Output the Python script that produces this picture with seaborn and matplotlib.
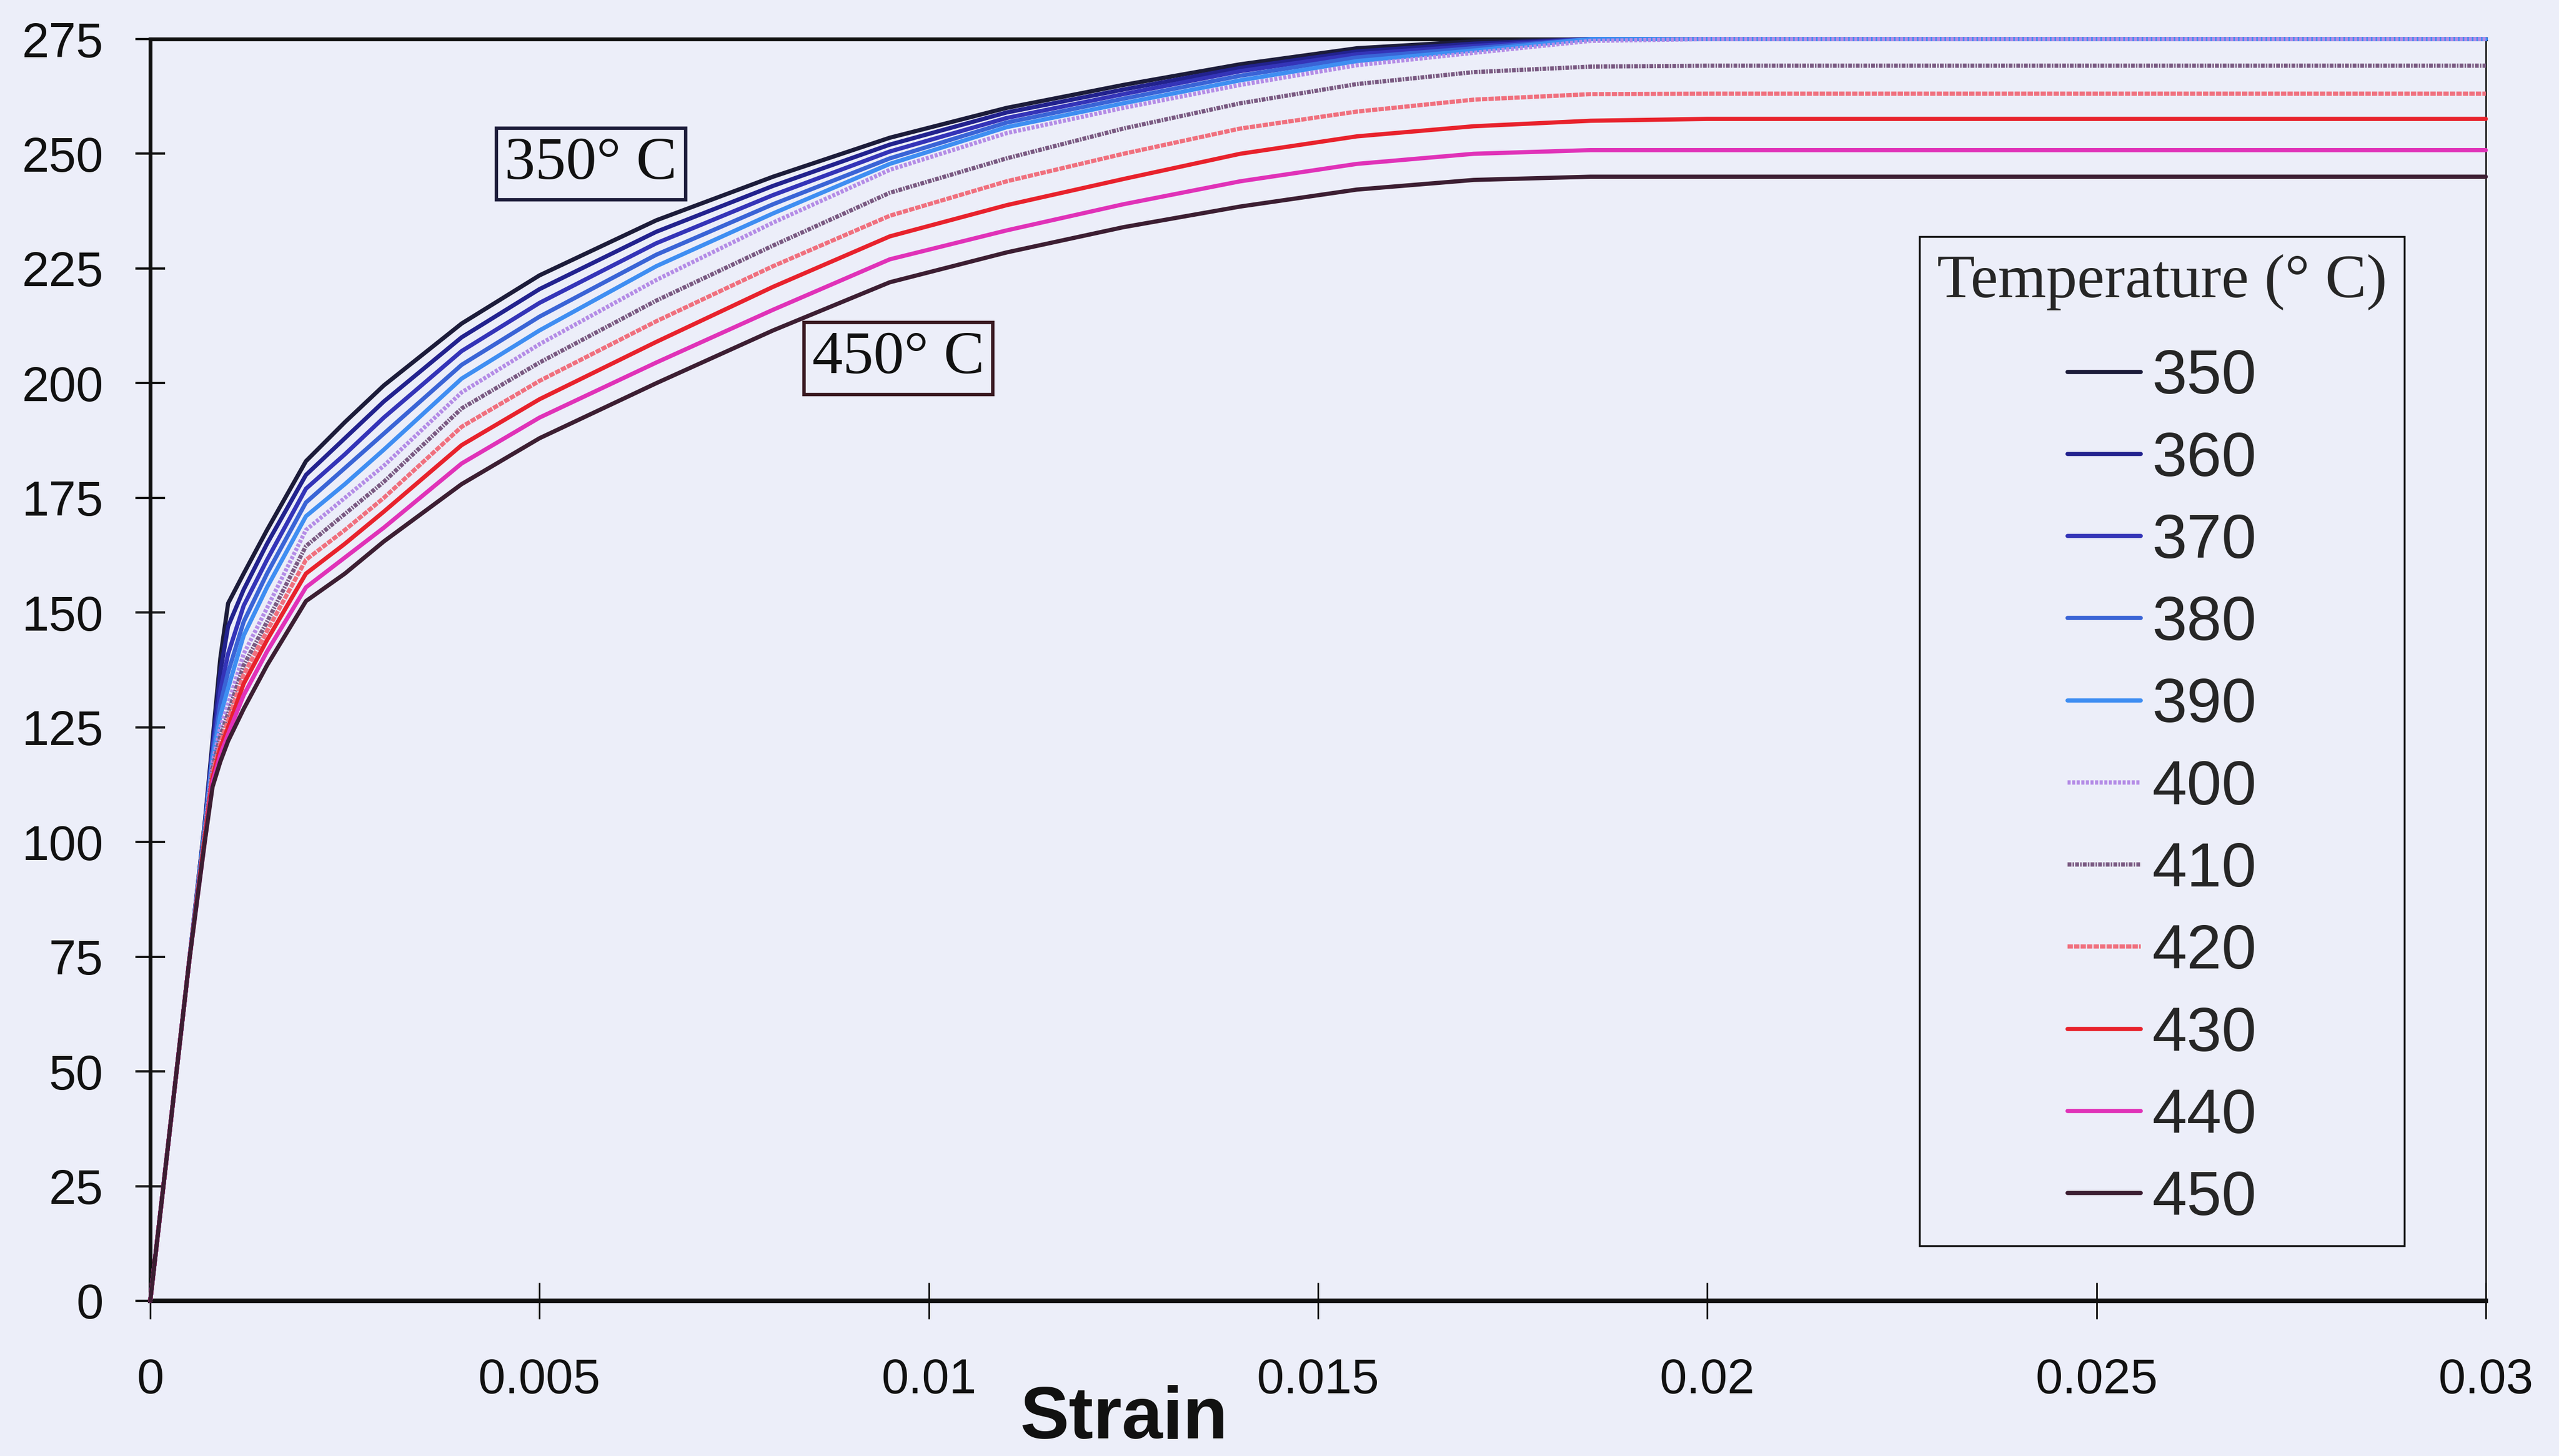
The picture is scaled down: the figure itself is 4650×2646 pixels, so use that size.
import matplotlib
matplotlib.use("Agg")
import matplotlib.pyplot as plt
import seaborn as sns
import pandas as pd

# Stress-strain curves of the alloy at elevated temperature
strain = [0, 0.0005, 0.0007, 0.0008, 0.0009, 0.001, 0.0012, 0.0015, 0.002, 0.0025,
          0.003, 0.004, 0.005, 0.0065, 0.008, 0.0095, 0.011, 0.0125, 0.014, 0.0155,
          0.017, 0.0185, 0.02, 0.03]

stress_350 = [0, 74, 104, 122, 140, 152, 158.5, 168, 183, 191.5, 199.5, 213, 223.5, 235.5,
              245, 253.5, 260, 265, 269.5, 273, 274.5, 275, 275, 275]
stress_360 = [0, 74, 104, 121, 137, 147, 155, 165, 180, 188, 196, 210, 220.5, 233,
              243, 252, 259, 264, 268.7, 272.3, 274, 275, 275, 275]
stress_370 = [0, 74, 103, 120, 133, 141, 151.5, 161.5, 177, 184.5, 192.5, 207, 217.5, 230.5,
              241, 250.5, 257.8, 263, 268, 271.7, 273.5, 275, 275, 275]
stress_380 = [0, 74, 103, 119, 130, 137, 148, 158.5, 174, 181.5, 189, 204, 214.5, 228,
              239, 249, 256.8, 262, 267, 271, 273, 275, 275, 275]
stress_390 = [0, 74, 103, 118, 127.5, 133.5, 145, 155.5, 171, 178, 185.5, 201, 211.5, 225.5,
              237, 247.8, 255.8, 261, 266, 270.2, 272.5, 275, 275, 275]
stress_400 = [0, 74, 102, 117, 125, 130, 141, 151, 168, 175, 182, 198, 208.5, 222.5,
              235, 246.5, 254.5, 260, 265, 269.3, 272, 274.6, 275, 275]
stress_410 = [0, 74, 102, 116, 123, 128, 138.5, 148, 164.5, 171.5, 178.5, 194.5, 204.5, 218,
              230, 241.5, 249, 255.5, 261, 265.2, 267.8, 269, 269.2, 269.2]
stress_420 = [0, 74, 101, 115, 121.5, 126.5, 136.5, 146, 161.5, 168, 175, 190.5, 200.5, 213.5,
              225.5, 236.5, 244, 250, 255.5, 259.2, 261.8, 263, 263.1, 263.1]
stress_430 = [0, 74, 101, 114, 120.5, 125, 134.5, 144, 158.5, 165, 172, 186.5, 196.5, 209,
              221, 232, 238.8, 244.5, 250, 253.8, 256, 257.2, 257.6, 257.6]
stress_440 = [0, 74, 100, 113, 119, 123.5, 132, 141.5, 155.5, 162, 168.5, 182.5, 192.5, 204.5,
              216, 227, 233.3, 239, 244, 247.8, 250, 250.8, 250.8, 250.8]
stress_450 = [0, 74, 100, 112, 117.5, 122, 129, 138.5, 152.5, 158.5, 165.5, 178, 188, 200,
              211.5, 222, 228.5, 234, 238.5, 242.2, 244.3, 245, 245, 245]

temperatures = [350, 360, 370, 380, 390, 400, 410, 420, 430, 440, 450]
curves = [stress_350, stress_360, stress_370, stress_380, stress_390, stress_400,
          stress_410, stress_420, stress_430, stress_440, stress_450]

x_ticks = [0, 0.005, 0.01, 0.015, 0.02, 0.025, 0.03]
x_tick_labels = ["0", "0.005", "0.01", "0.015", "0.02", "0.025", "0.03"]
y_ticks = list(range(0, 276, 25))

colors = {350: "#1c1c3a", 360: "#22228e", 370: "#3434b8", 380: "#3a64d6", 390: "#3f8ef2",
          400: "#b48ce6", 410: "#7a5a82", 420: "#f0707e", 430: "#e8222c", 440: "#e032b8",
          450: "#3c1e32"}
dashes = {350: "", 360: "", 370: "", 380: "", 390: "",
          400: (4, 2), 410: (5, 1.5, 2, 1.5), 420: (7, 1.5),
          430: "", 440: "", 450: ""}

rows = []
for t, s in zip(temperatures, curves):
    for e, v in zip(strain, s):
        rows.append({"strain": e, "stress": v, "temp": t})
df = pd.DataFrame(rows)

sns.set_style("ticks")
bg = "#eceef9"
plt.rcParams.update({
    "font.family": ["Liberation Sans", "DejaVu Sans"],
    "lines.scale_dashes": False,
    "figure.facecolor": bg,
    "axes.facecolor": bg,
    "savefig.facecolor": bg,
})

fig = plt.figure(figsize=(46.5, 26.46), dpi=100)
ax = fig.add_axes([0.05871, 0.10658, 0.91269, 0.86658])

line_w = 5.5
sns.lineplot(data=df, x="strain", y="stress", hue="temp", style="temp",
             palette=colors, dashes=dashes, hue_order=temperatures,
             style_order=temperatures, estimator=None, sort=False,
             linewidth=line_w, legend=False, ax=ax, clip_on=False, zorder=3)

ax.set_xlim(0, 0.03)
ax.set_ylim(0, 275)
ax.set_xticks(x_ticks)
ax.set_xticklabels(x_tick_labels)
ax.set_yticks(y_ticks)
ax.set_xlabel("")
ax.set_ylabel("")

for side, lw in {"left": 5, "bottom": 6, "top": 5, "right": 2}.items():
    ax.spines[side].set_visible(True)
    ax.spines[side].set_linewidth(lw)
    ax.spines[side].set_color("#111111")

ax.tick_params(axis="y", direction="inout", length=39, width=3, pad=42,
               labelsize=64, colors="#111111")
ax.tick_params(axis="x", direction="inout", length=48, width=2.2, pad=50,
               labelsize=64, colors="#111111")

fig.text(2042 / 4650, 4 / 2646, "Strain", ha="center", va="bottom",
         fontsize=96, fontweight="bold", color="#111111")

serif = ["Liberation Serif", "DejaVu Serif"]
ax.text(0.00566, 247.8, "350° C", family=serif, fontsize=80, ha="center", va="center",
        color="#111111", zorder=5,
        bbox=dict(boxstyle="square,pad=0.14", fc="none", ec="#1e1e3c", lw=4.5))
ax.text(0.00961, 205.4, "450° C", family=serif, fontsize=80, ha="center", va="center",
        color="#111111", zorder=5,
        bbox=dict(boxstyle="square,pad=0.14", fc="none", ec="#3a1a22", lw=4.5))

lines = ax.get_lines()[:len(temperatures)]
leg = ax.legend(lines, [str(t) for t in temperatures],
                title="Temperature (° C)",
                title_fontproperties={"family": serif, "size": 81},
                prop={"family": ["Liberation Sans", "DejaVu Sans"], "size": 82},
                loc="upper left", bbox_to_anchor=(3488 / 4650, 1 - 430 / 2646),
                bbox_transform=fig.transFigure, borderaxespad=0,
                frameon=True, fancybox=False, framealpha=1, facecolor=bg,
                edgecolor="#111111", handlelength=1.17, handletextpad=0.18,
                labelspacing=0.38, borderpad=0.28)
leg._legend_box.sep = 50
leg.get_frame().set_linewidth(2.5)
leg.set_zorder(6)
for h in leg.legend_handles:
    h.set_linewidth(line_w)

fig.savefig("out.png", dpi=100, facecolor=bg)
